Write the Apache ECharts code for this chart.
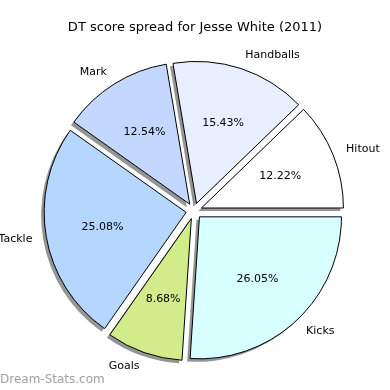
<!DOCTYPE html>
<html>
<head>
<meta charset="utf-8">
<script src="https://cdn.jsdelivr.net/npm/echarts@6/dist/echarts.min.js"></script>
<style>html,body{margin:0;padding:0;background:#fff}#c{width:390px;height:390px}</style>
</head>
<body>
<div id="c"></div>
<script>
const categories = ['Hitout', 'Handballs', 'Mark', 'Tackle', 'Goals', 'Kicks'];
const values = [12.22, 15.43, 12.54, 25.08, 8.68, 26.05];
const colors = ['#ffffff', '#e8f0ff', '#c4d8ff', '#b4d6ff', '#d2ec8c', '#d8ffff'];
const titleText = 'DT score spread for Jesse White (2011)';
const watermark = 'Dream-Stats.com';

const FONT = 'DejaVu Sans';
const R = 142;
const CENTER = [194, 211];
const SHADOW_CENTER = [191, 214];
const OFFSET = 8;

const chart = echarts.init(document.getElementById('c'), null, {renderer: 'canvas'});
const mainData = categories.map((n, i) => ({
  name: n, value: values[i], selected: true,
  itemStyle: {color: colors[i]}
}));
const plainData = categories.map((n, i) => ({
  name: n, value: values[i], selected: true
}));
const basePie = {
  type: 'pie',
  startAngle: 0, clockwise: false,
  selectedMode: 'multiple', selectedOffset: OFFSET,
  avoidLabelOverlap: false,
  silent: true
};
chart.setOption({
  animation: false,
  backgroundColor: '#fff',
  title: {
    text: titleText, left: 'center', top: 16,
    textStyle: {fontFamily: FONT, fontSize: 13, fontWeight: 'normal', color: '#000'}
  },
  graphic: [{
    type: 'text', left: 0, bottom: 4,
    style: {text: watermark, font: '12px "DejaVu Sans"', fill: '#a0a0a0'}
  }],
  series: [Object.assign({}, basePie, {
    center: SHADOW_CENTER, radius: [0, R],
    itemStyle: {color: '#959595', borderWidth: 0},
    select: {itemStyle: {color: '#959595', borderWidth: 0}},
    label: {show: false}, labelLine: {show: false},
    data: plainData
  }), Object.assign({}, basePie, {
    center: CENTER, radius: [0, R],
    itemStyle: {borderColor: '#000', borderWidth: 1},
    select: {itemStyle: {borderColor: '#000', borderWidth: 1}},
    label: {
      show: true, position: 'outside', formatter: '{b}',
      fontFamily: FONT, fontSize: 11, color: '#000',
      distanceToLabelLine: 0
    },
    labelLine: {show: false, length: 14, length2: 0},
    data: mainData
  }), Object.assign({}, basePie, {
    center: CENTER, radius: [0, 164],
    itemStyle: {color: 'rgba(0,0,0,0)', borderWidth: 0},
    select: {itemStyle: {color: 'rgba(0,0,0,0)', borderWidth: 0}},
    label: {
      show: true, position: 'inside',
      formatter: p => p.value.toFixed(2) + '%',
      fontFamily: FONT, fontSize: 11, color: '#000'
    },
    labelLine: {show: false},
    data: plainData
  })]
});
</script>
</body>
</html>
